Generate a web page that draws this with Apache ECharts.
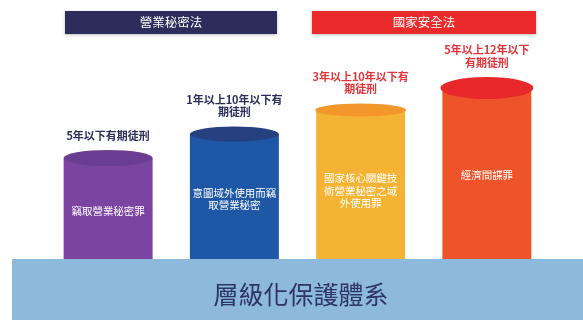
<!DOCTYPE html>
<html><head><meta charset="utf-8">
<script src="https://cdn.jsdelivr.net/npm/echarts@6/dist/echarts.min.js"></script>
<style>html,body{margin:0;padding:0;background:#fff}#c{width:583px;height:320px}</style>
</head><body><div id="c"></div>
<script>
const crimes = ['竊取營業秘密罪', '意圖域外使用而竊\n取營業秘密', '國家核心關鍵技\n術營業秘密之域\n外使用罪', '經濟間諜罪'];
const penalties = ['5年以下有期徒刑', '1年以上10年以下有\n期徒刑', '3年以上10年以下有\n期徒刑', '5年以上12年以下\n有期徒刑'];
const tierHeights = [102, 126, 150, 172];
const lawGroups = ['營業秘密法', '國家安全法'];
const bottomTitle = '層級化保護體系';

const bodyColors = ['#7a44a0', '#1d57a5', '#f5b333', '#ef5329'];
const capColors = ['#6a3d93', '#263f7f', '#f3962c', '#e8282b'];
const capSizes = [[89, 16], [89, 15], [91, 13], [93, 22]];
const penaltyColors = ['#2b2d5a', '#2b2d5a', '#e3343a', '#e3343a'];
const innerOffsets = [[0, 2], [0, 2], [0, 6], [0, 1]];
const FONT = '"Noto Sans CJK TC", "Noto Sans", sans-serif';

const chart = echarts.init(document.getElementById('c'));
chart.setOption({
  animation: false,
  grid: { left: 45, right: 33, top: 60, bottom: 60 },
  xAxis: { type: 'category', data: crimes, show: false },
  yAxis: { type: 'value', min: 0, max: 200, show: false },
  series: [
    {
      type: 'bar',
      barWidth: 89,
      z: 2,
      data: tierHeights.map((v, i) => ({
        value: v,
        itemStyle: { color: bodyColors[i] },
        label: { offset: innerOffsets[i] }
      })),
      label: {
        show: true, position: 'inside', color: '#fff', fontFamily: FONT,
        fontSize: 10.5, lineHeight: 12.5,
        formatter: p => crimes[p.dataIndex]
      }
    },
    {
      type: 'pictorialBar',
      symbol: 'circle',
      symbolPosition: 'end',
      symbolOffset: [0, '-50%'],
      z: 3,
      data: tierHeights.map((v, i) => ({
        value: v,
        symbolSize: capSizes[i],
        itemStyle: { color: capColors[i] },
        label: { color: penaltyColors[i] }
      })),
      label: {
        show: true, position: 'top', distance: 8, fontFamily: FONT,
        fontSize: 11, fontWeight: 'bold', lineHeight: 12.5, align: 'center',
        formatter: p => penalties[p.dataIndex]
      }
    }
  ],
  graphic: [
    { type: 'rect', z: 100, shape: { x: 65, y: 11, width: 212, height: 23 },
      style: { fill: '#2c2d5b', shadowBlur: 3, shadowColor: 'rgba(0,0,0,0.25)', shadowOffsetY: 1 } },
    { type: 'text', z: 101, style: { text: lawGroups[0], x: 171, y: 22.5, align: 'center', verticalAlign: 'middle',
      fill: '#fff', font: '12.5px ' + FONT } },
    { type: 'rect', z: 100, shape: { x: 312, y: 11, width: 224, height: 23 },
      style: { fill: '#eb2a2b', shadowBlur: 3, shadowColor: 'rgba(0,0,0,0.25)', shadowOffsetY: 1 } },
    { type: 'text', z: 101, style: { text: lawGroups[1], x: 424, y: 22.5, align: 'center', verticalAlign: 'middle',
      fill: '#fff', font: '12.5px ' + FONT } },
    { type: 'rect', z: 100, shape: { x: 12, y: 259, width: 571, height: 61 },
      style: { fill: '#8db9dc' } },
    { type: 'text', z: 101, style: { text: bottomTitle, x: 301, y: 294, align: 'center', verticalAlign: 'middle',
      fill: '#2e3566', font: '25px ' + FONT } }
  ]
});
</script>
</body></html>
